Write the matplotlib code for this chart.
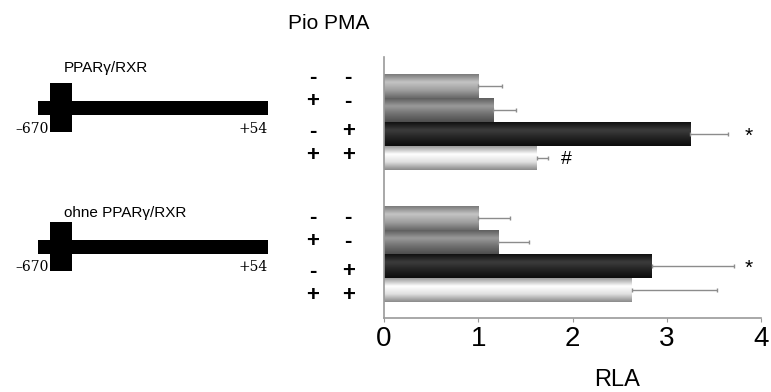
import matplotlib
matplotlib.use("Agg")
import matplotlib.pyplot as plt
import numpy as np
from matplotlib.colors import LinearSegmentedColormap
from matplotlib.patches import Rectangle

plt.rcParams["font.family"] = ["Liberation Sans", "DejaVu Sans"]

# --- data --------------------------------------------------------------------
CONSTRUCTS = ["PPARγ/RXR", "ohne PPARγ/RXR"]
PIO = ["-", "+", "-", "+"]
PMA = ["-", "-", "+", "+"]
RLA_WITH = [1.00, 1.16, 3.25, 1.62]
ERR_WITH = [0.25, 0.24, 0.40, 0.12]
RLA_WITHOUT = [1.00, 1.21, 2.84, 2.63]
ERR_WITHOUT = [0.34, 0.33, 0.87, 0.90]
MARK_WITH = ["", "", "*", "#"]
MARK_WITHOUT = ["", "", "*", ""]
XTICKS = [0, 1, 2, 3, 4]

# bar shading, top -> bottom of each bar
SHADES = [
    ["#7a7a7a", "#c4c4c4", "#a0a0a0", "#6a6a6a"],
    ["#5e5e5e", "#9a9a9a", "#707070", "#4e4e4e"],
    ["#101010", "#3c3c3c", "#222222", "#0c0c0c"],
    ["#9a9a9a", "#ffffff", "#e0e0e0", "#8a8a8a"],
]

fig = plt.figure(figsize=(7.71, 3.92), dpi=100)

# overlay in pixel coordinates for the schematic + labels
ov = fig.add_axes([0, 0, 1, 1], zorder=0)
ov.set_xlim(0, 771)
ov.set_ylim(392, 0)
ov.axis("off")

ax = fig.add_axes([384 / 771, 1 - 318 / 392, 377 / 771, 261 / 392], zorder=1)
ax.patch.set_alpha(0)

pos1 = np.arange(4, dtype=float)
pos2 = pos1 + 5.5
ypos = np.concatenate([pos1, pos2])
vals = RLA_WITH + RLA_WITHOUT
errs = ERR_WITH + ERR_WITHOUT
marks = MARK_WITH + MARK_WITHOUT

bars = ax.barh(ypos, vals, height=1.0, color="none", edgecolor="none")
grad = np.linspace(0, 1, 64).reshape(-1, 1)
for i, b in enumerate(bars):
    cmap = LinearSegmentedColormap.from_list(f"s{i}", SHADES[i % 4])
    x0, y0 = b.get_x(), b.get_y()
    im = ax.imshow(grad, cmap=cmap, aspect="auto", interpolation="bicubic",
                   extent=(x0, x0 + b.get_width(), y0 + b.get_height(), y0))
    im.set_clip_path(b)

ax.errorbar(vals, ypos, xerr=[np.zeros(len(vals)), errs], fmt="none",
            ecolor="#8c8c8c", elinewidth=1.0, capsize=1.5, capthick=1.0)

for y, v, e, m in zip(ypos, vals, errs, marks):
    if m == "*":
        ax.text(3.87, y + 0.1, m, fontsize=15, ha="center", va="center")
    elif m == "#":
        ax.text(v + e + 0.19, y + 0.05, m, fontsize=14, ha="center", va="center")

ax.set_xlim(0, 4)
ax.set_ylim(9.67, -1.21)
ax.set_xticks(XTICKS)
ax.set_xticklabels([str(t) for t in XTICKS], fontsize=20)
ax.set_yticks([])
ax.tick_params(axis="x", direction="out", length=3, color="#999999", pad=3)
for s in ("top", "right"):
    ax.spines[s].set_visible(False)
for s in ("left", "bottom"):
    ax.spines[s].set_color("#9a9a9a")
    ax.spines[s].set_linewidth(1.2)

# +/- treatment table
sign_rows = [list(pos1 + np.array([-0.35, -0.35, -0.1, -0.1])),
             list(pos2 + np.array([0.0, 0.0, 0.25, 0.25]))]
for rows in sign_rows:
    for y, p, q in zip(rows, PIO, PMA):
        ax.text(-0.76, y, p, transform=ax.transData, fontsize=16, fontweight="bold",
                ha="center", va="center", clip_on=False)
        ax.text(-0.38, y, q, transform=ax.transData, fontsize=16, fontweight="bold",
                ha="center", va="center", clip_on=False)

ov.text(288, 23, "Pio PMA", fontsize=15, ha="left", va="center")
ov.text(617, 391, "RLA", fontsize=17, ha="center", va="bottom")

# promoter schematics
for (line_y, label_y, num_y), name in zip([(101, 68, 129), (240, 213, 267)], CONSTRUCTS):
    ov.add_patch(Rectangle((38, line_y), 230, 14, color="black", lw=0))
    ov.add_patch(Rectangle((50, line_y - 18), 22, 49, color="black", lw=0))
    ov.text(64, label_y, name, fontsize=11, ha="left", va="center")
    ov.text(49, num_y, "–670", fontsize=10, family="DejaVu Serif", ha="right", va="center")
    ov.text(268, num_y, "+54", fontsize=10, family="DejaVu Serif", ha="right", va="center")

fig.savefig("out.png", dpi=100)
